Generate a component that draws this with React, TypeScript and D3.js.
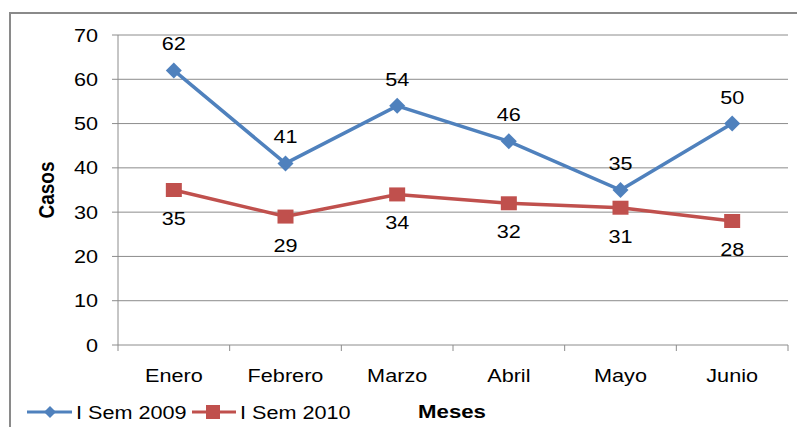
import React from 'react';
import * as d3 from 'd3';

const months = ['Enero', 'Febrero', 'Marzo', 'Abril', 'Mayo', 'Junio'];
const sem2009 = [62, 41, 54, 46, 35, 50];
const sem2010 = [35, 29, 34, 32, 31, 28];
const yTicks = [0, 10, 20, 30, 40, 50, 60, 70];

const BLUE = '#4F81BD';
const RED = '#C0504D';
const GRID = '#8c8c8c';
const FONT = 'Arial, "Liberation Sans", sans-serif';
// the source image is a little stretched sideways, so the text is too
const SX = 1.17;

function T({ x, y, anchor = 'start', size = 18.5, bold = false, rotate = 0, children }: any) {
  return (
    <text
      transform={`translate(${x},${y}) scale(${SX},1)${rotate ? ` rotate(${rotate})` : ''}`}
      textAnchor={anchor}
      fontSize={size}
      fontWeight={bold ? 'bold' : 'normal'}
      fill="#000"
    >
      {children}
    </text>
  );
}

export default function App() {
  const W = 805;
  const H = 435;
  const left = 118;
  const right = 788;
  const top = 35;
  const bottom = 345;

  const x = d3.scaleBand<string>().domain(months).range([left, right]);
  const y = d3.scaleLinear().domain([0, 70]).range([bottom, top]);
  const cx = (m: string) => (x(m) as number) + x.bandwidth() / 2;

  const line = d3
    .line<number>()
    .x((_, i) => cx(months[i]))
    .y((d) => y(d));

  const diamond = (px: number, py: number, r = 8) =>
    `M${px},${py - r}L${px + r},${py}L${px},${py + r}L${px - r},${py}Z`;

  return (
    <div style={{ margin: -8 }}>
      <svg width={W} height={H} style={{ display: 'block', background: '#fff' }} fontFamily={FONT}>
        {/* chart frame */}
        <path d={`M10,${H}V13H${W}`} fill="none" stroke="#8a8a8a" strokeWidth={2} />

        {/* gridlines + y ticks */}
        {yTicks.map((t) => (
          <g key={t}>
            <line x1={left - 6} x2={right} y1={y(t)} y2={y(t)} stroke={GRID} strokeWidth={1} />
            <T x={98} y={y(t) + 6.5} anchor="end">
              {t}
            </T>
          </g>
        ))}
        <line x1={left} x2={left} y1={top} y2={bottom} stroke={GRID} strokeWidth={1} />

        {/* x ticks */}
        {[...months.map((m) => x(m) as number), right].map((tx, i) => (
          <line key={i} x1={tx} x2={tx} y1={bottom} y2={bottom + 6} stroke={GRID} strokeWidth={1} />
        ))}
        {months.map((m) => (
          <T key={m} x={cx(m)} y={382} anchor="middle">
            {m}
          </T>
        ))}

        {/* axis titles */}
        <T x={54} y={190} anchor="middle" size={19} bold rotate={-90}>
          Casos
        </T>
        <T x={452} y={418} anchor="middle" size={19} bold>
          Meses
        </T>

        {/* series 2009 */}
        <path d={line(sem2009) as string} fill="none" stroke={BLUE} strokeWidth={3.5} />
        {sem2009.map((v, i) => (
          <g key={i}>
            <path d={diamond(cx(months[i]), y(v))} fill={BLUE} />
            <T x={cx(months[i])} y={y(v) - 20} anchor="middle">
              {v}
            </T>
          </g>
        ))}

        {/* series 2010 */}
        <path d={line(sem2010) as string} fill="none" stroke={RED} strokeWidth={3.5} />
        {sem2010.map((v, i) => (
          <g key={i}>
            <rect x={cx(months[i]) - 8} y={y(v) - 7} width={16} height={14} fill={RED} />
            <T x={cx(months[i])} y={y(v) + 35} anchor="middle">
              {v}
            </T>
          </g>
        ))}

        {/* legend */}
        <line x1={27} x2={72} y1={412} y2={412} stroke={BLUE} strokeWidth={3} />
        <path d={diamond(50, 412, 6)} fill={BLUE} />
        <T x={76} y={419}>
          I Sem 2009
        </T>
        <line x1={192} x2={236} y1={412} y2={412} stroke={RED} strokeWidth={3} />
        <rect x={206} y={405} width={14} height={14} fill={RED} />
        <T x={240} y={419}>
          I Sem 2010
        </T>
      </svg>
    </div>
  );
}
